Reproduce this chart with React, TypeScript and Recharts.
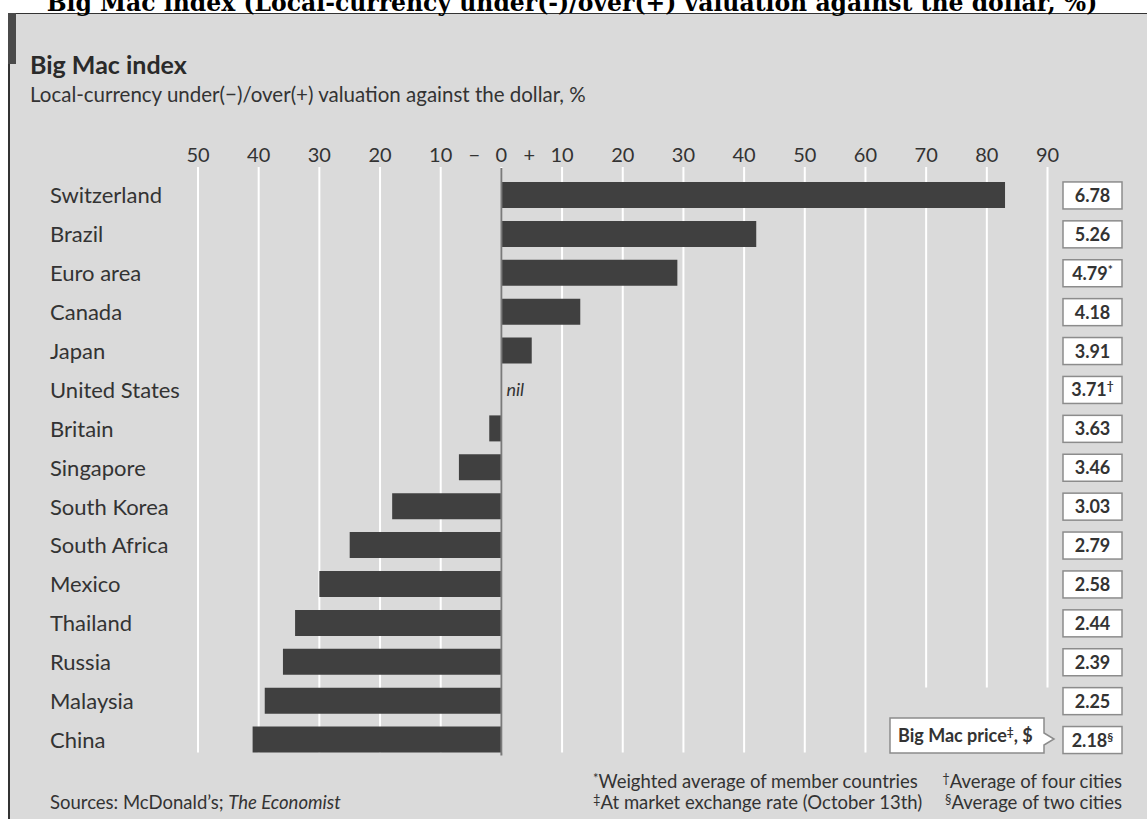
import React from "react";
import {
  BarChart,
  Bar,
  XAxis,
  YAxis,
  CartesianGrid,
  ReferenceLine,
  ReferenceDot,
} from "recharts";

const countries = [
  "Switzerland",
  "Brazil",
  "Euro area",
  "Canada",
  "Japan",
  "United States",
  "Britain",
  "Singapore",
  "South Korea",
  "South Africa",
  "Mexico",
  "Thailand",
  "Russia",
  "Malaysia",
  "China",
];
// under(-)/over(+) valuation against the dollar, %
const valuation = [83, 42, 29, 13, 5, 0, -2, -7, -18, -25, -30, -34, -36, -39, -41];
const prices = ["6.78", "5.26", "4.79", "4.18", "3.91", "3.71", "3.63", "3.46", "3.03", "2.79", "2.58", "2.44", "2.39", "2.25", "2.18"];
const priceNotes = ["", "", "*", "", "", "†", "", "", "", "", "", "", "", "", "§"];
const xTicks = [-50, -40, -30, -20, -10, 0, 10, 20, 30, 40, 50, 60, 70, 80, 90];

const data = countries.map((country, i) => ({
  country,
  value: valuation[i],
  price: prices[i],
  note: priceNotes[i],
}));
const nilCountry = countries[valuation.indexOf(0)];

const W = 1147;
const H = 819;
const FONT = "Lato, 'Open Sans', sans-serif";
const TEXT = "#333";
const BOX_X = 1063;
const BOX_W = 59;

const XTick = (props: any) => {
  const { x, payload } = props;
  const v = payload.value;
  const ty = 162;
  return (
    <g fontFamily={FONT} fontSize={20} fill={TEXT}>
      <text x={x} y={ty} textAnchor="middle">
        {Math.abs(v)}
      </text>
      {v === 0 && (
        <>
          <text x={x - 27} y={ty} textAnchor="middle">−</text>
          <text x={x + 28} y={ty} textAnchor="middle">+</text>
        </>
      )}
    </g>
  );
};

const CountryTick = (props: any) => {
  const { y, payload } = props;
  return (
    <text x={50} y={y} dy="0.36em" fontFamily={FONT} fontSize={22} fill={TEXT}>
      {payload.value}
    </text>
  );
};

const PriceTick = (props: any) => {
  const { y, payload } = props;
  const row = data.find((d) => d.country === payload.value);
  if (!row) return null;
  return (
    <g>
      <rect x={BOX_X} y={y - 13.5} width={BOX_W} height={27} fill="#fff" stroke="#8c8c8c" strokeWidth={1.5} />
      <text
        x={BOX_X + BOX_W / 2}
        y={y}
        dy="0.36em"
        textAnchor="middle"
        fontFamily={FONT}
        fontSize={18}
        fontWeight={700}
        fill="#333"
      >
        {row.price}
        {row.note && (
          <tspan fontSize={12} dy={-6}>
            {row.note}
          </tspan>
        )}
      </text>
    </g>
  );
};

const NilMark = (p: any) => (
  <text x={p.cx + 5} y={p.cy} dy="0.36em" fontFamily={FONT} fontStyle="italic" fontSize={18} fill={TEXT}>
    nil
  </text>
);

const gridLine = (p: any) => {
  const short = xTicks[p.index] >= 70;
  return (
    <line
      key={p.key}
      x1={p.x1}
      x2={p.x2}
      y1={p.y1 - 9}
      y2={short ? p.y2 - 72 : p.y2 - 7}
      stroke="#fff"
      strokeWidth={2}
    />
  );
};

const App: React.FC = () => {
  return (
    <div style={{ position: "absolute", left: 0, top: 0, width: W, height: H, overflow: "hidden", background: "#fff" }}>
      <div
        style={{
          position: "absolute",
          left: 8,
          top: 13,
          width: W - 8,
          height: H - 13,
          background: "#dadada",
          borderLeft: "2px solid #333",
          borderTop: "1.5px solid #333",
          boxSizing: "border-box",
        }}
      />
      <div style={{ position: "absolute", left: 8, top: 13, width: 8, height: 51, background: "#4a4a4a" }} />
      <div style={{ position: "absolute", left: 0, top: 0 }}>
        <BarChart
          width={W}
          height={H}
          data={data}
          layout="vertical"
          barSize={26}
          margin={{ top: 156, right: 0, bottom: 59.5, left: 0 }}
        >
          <CartesianGrid horizontal={false} vertical={gridLine} stroke="#fff" />
          <XAxis
            type="number"
            orientation="top"
            domain={[-50, 90]}
            ticks={xTicks}
            height={20}
            axisLine={false}
            tickLine={false}
            tick={<XTick />}
            allowDataOverflow
          />
          <YAxis
            type="category"
            dataKey="country"
            width={198}
            axisLine={false}
            tickLine={false}
            tick={<CountryTick />}
            interval={0}
          />
          <YAxis
            yAxisId="price"
            orientation="right"
            type="category"
            dataKey="country"
            width={99.5}
            axisLine={false}
            tickLine={false}
            tick={<PriceTick />}
            interval={0}
          />
          <Bar dataKey="value" fill="#404040" isAnimationActive={false} />
          <ReferenceLine
            x={0}
            stroke="#7a7a7a"
            strokeWidth={2}
            shape={(p: any) => (
              <line x1={p.x1} x2={p.x2} y1={p.y1 - 8} y2={p.y2 - 4} stroke="#7a7a7a" strokeWidth={2} />
            )}
          />
          <ReferenceDot x={0} y={nilCountry} r={0} shape={NilMark} />
        </BarChart>
      </div>
      <svg width={W} height={H} style={{ position: "absolute", left: 0, top: 0, pointerEvents: "none" }}>
        <text x={572} y={11} textAnchor="middle" fontFamily="'DejaVu Serif', serif" fontWeight="bold" fontSize={23.5} fill="#000">
          Big Mac index (Local-currency under(-)/over(+) valuation against the dollar, %)
        </text>
        <text x={30} y={74} fontFamily={FONT} fontWeight="bold" fontSize={25} fill="#2a2a2a">
          Big Mac index
        </text>
        <text x={30} y={102} fontFamily={FONT} fontSize={20.5} fill={TEXT}>
          Local-currency under(−)/over(+) valuation against the dollar, %
        </text>
        <path d="M890,718 H1044 V733 L1054,739 L1044,745 V753 H890 Z" fill="#fff" stroke="#8c8c8c" strokeWidth={1.5} />
        <text x={898} y={742} fontFamily={FONT} fontSize={18} fontWeight={700} fill="#333">
          Big Mac price<tspan fontSize={12} dy={-6}>‡</tspan>
          <tspan dy={6}>, $</tspan>
        </text>
        <g fontFamily={FONT} fontSize={18.5} fill={TEXT}>
          <text x={593} y={788}>
            <tspan fontSize={13} dy={-5}>*</tspan>
            <tspan dy={5}>Weighted average of member countries</tspan>
          </text>
          <text x={593} y={809}>
            <tspan fontSize={13} dy={-5}>‡</tspan>
            <tspan dy={5}>At market exchange rate (October 13th)</tspan>
          </text>
          <text x={1122} y={788} textAnchor="end">
            <tspan fontSize={13} dy={-5}>†</tspan>
            <tspan dy={5}>Average of four cities</tspan>
          </text>
          <text x={1122} y={809} textAnchor="end">
            <tspan fontSize={13} dy={-5}>§</tspan>
            <tspan dy={5}>Average of two cities</tspan>
          </text>
          <text x={50} y={809}>
            Sources: McDonald’s; <tspan fontStyle="italic">The Economist</tspan>
          </text>
        </g>
      </svg>
    </div>
  );
};

export default App;
